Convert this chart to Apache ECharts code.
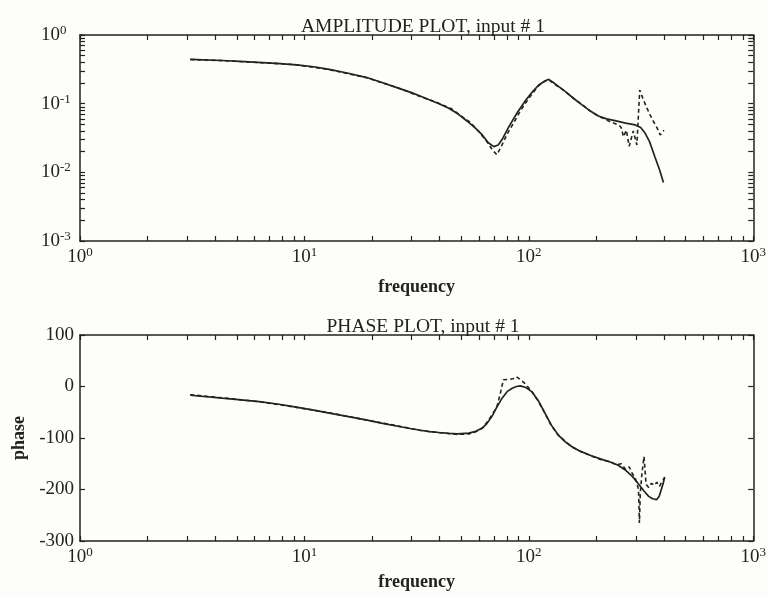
<!DOCTYPE html>
<html><head><meta charset="utf-8">
<script src="https://cdn.jsdelivr.net/npm/echarts@6/dist/echarts.min.js"></script>
<style>html,body{margin:0;padding:0;background:#fdfdf9}#c{width:769px;height:598px}</style>
</head><body><div id="c"></div><script>
const titles = ['AMPLITUDE PLOT, input # 1', 'PHASE PLOT, input # 1'];
const xName = 'frequency';
const phaseName = 'phase';

const ampFreqModel = [3.1, 4.3, 5.4, 6.5, 7.8, 9.2, 11, 12.9, 15.5, 18.8, 22, 26.4, 30, 33, 36, 39.8, 44, 48.6, 53, 57.8, 62, 66, 69.8, 73, 76, 81.4, 89, 97, 104, 110.7, 117, 122.6, 128, 135, 145.6, 158, 172.5, 188, 204, 222, 242, 270, 298, 315, 330, 345, 364, 382, 398];
const ampModel = [0.443, 0.425, 0.41, 0.397, 0.384, 0.368, 0.345, 0.315, 0.28, 0.242, 0.205, 0.167, 0.145, 0.128, 0.114, 0.10, 0.086, 0.07, 0.056, 0.044, 0.035, 0.027, 0.0237, 0.025, 0.03, 0.046, 0.075, 0.113, 0.15, 0.187, 0.21, 0.226, 0.205, 0.18, 0.15, 0.12, 0.096, 0.078, 0.066, 0.06, 0.0565, 0.052, 0.049, 0.045, 0.037, 0.028, 0.017, 0.011, 0.0071];

const ampFreqMeas = [3.1, 4.3, 6.5, 9.2, 12.9, 18.8, 26.4, 33, 39.8, 45, 50, 55, 60, 65, 69, 72, 75, 80, 86, 92, 100, 110, 117, 122, 128, 135, 145, 158, 172, 188, 204, 218, 229, 240, 251, 258, 264, 272, 280, 292, 303, 312, 322, 334, 346, 359, 372, 385, 400];
const ampMeas = [0.44, 0.424, 0.395, 0.369, 0.313, 0.24, 0.168, 0.126, 0.101, 0.085, 0.066, 0.053, 0.039, 0.028, 0.021, 0.018, 0.023, 0.036, 0.054, 0.08, 0.12, 0.18, 0.21, 0.225, 0.2, 0.178, 0.152, 0.12, 0.098, 0.078, 0.066, 0.06, 0.055, 0.052, 0.049, 0.045, 0.033, 0.041, 0.024, 0.04, 0.025, 0.158, 0.12, 0.09, 0.07, 0.055, 0.045, 0.035, 0.041];

const phaseFreqModel = [3.1, 4.3, 6.3, 7.7, 9.2, 11, 12.9, 15.5, 18.8, 22, 26.4, 30, 33, 36, 39.8, 44, 48, 54, 58, 62, 65, 68.5, 72, 76, 80, 84.3, 88, 91.7, 97, 103, 110, 118, 126, 135, 145, 155, 170, 190, 210, 234, 250, 268, 290, 310, 326, 342, 356, 371, 381, 389, 397, 403];
const phaseModel = [-17, -22.7, -29.2, -34.5, -40, -46, -51.8, -58, -64.7, -71, -77.7, -82, -85, -87.5, -89.3, -91, -92, -90.6, -87, -80.8, -72, -58, -40, -22.7, -10, -3.3, 0, 1.2, -2, -9.9, -27, -51.8, -75, -93.8, -107, -116.4, -126, -134.5, -141, -147.5, -153, -161.6, -175, -190.7, -203, -213.3, -218, -219.8, -213, -200.4, -188, -175.8];

const phaseFreqMeas = [3.1, 4.3, 6.3, 9.2, 12.9, 18.8, 26.4, 33, 39.8, 48, 54, 58, 62, 65, 68.5, 72, 74.5, 77, 82, 85, 88, 92, 96, 100, 104, 110, 118, 126, 135, 145, 155, 170, 190, 210, 230, 245, 258, 270, 280, 290, 298, 303, 308, 311, 314, 319, 326, 333, 342, 352, 362, 372, 382, 392, 403];
const phaseMeas = [-16, -22, -29.5, -40.5, -51, -65, -77, -85.5, -89.5, -93, -92, -88, -81, -70, -55, -40, -15, 13, 14, 15, 19, 13, 6, -3, -12, -28, -52, -76, -94, -106, -117, -126, -135, -142, -146, -152, -150, -161, -156, -170, -178, -188, -200, -265, -205, -170, -136, -190, -196, -188, -192, -186, -194, -185, -177];

const freqTicks = [1, 2, 3, 4, 5, 6, 7, 8, 9, 10, 20, 30, 40, 50, 60, 70, 80, 90, 100, 200, 300, 400, 500, 600, 700, 800, 900, 1000];
const freqLabels = [1, 10, 100, 1000];
const ampTicks = [0.001, 0.002, 0.003, 0.004, 0.005, 0.006, 0.007, 0.008, 0.009, 0.01, 0.02, 0.03, 0.04, 0.05, 0.06, 0.07, 0.08, 0.09, 0.1, 0.2, 0.3, 0.4, 0.5, 0.6, 0.7, 0.8, 0.9, 1];
const ampLabels = [0.001, 0.01, 0.1, 1];
const phaseTicks = [-300, -200, -100, 0, 100];

const FONT = '"Liberation Serif", "DejaVu Serif", serif';
const INK = '#222';
const zip = (a, b) => a.map((v, i) => [v, b[i]]);
const powRich = {
  b: { fontFamily: FONT, fontSize: 19, color: INK, lineHeight: 22 },
  s: { fontFamily: FONT, fontSize: 13, color: INK, lineHeight: 13, verticalAlign: 'top' }
};
const powFmt = v => '{b|10}{s|' + Math.round(Math.log10(v)) + '}';
const axisLine = { show: true, onZero: false, lineStyle: { color: INK, width: 1.5 } };
const tick = vals => ({ show: true, inside: true, length: 5, customValues: vals, lineStyle: { color: INK, width: 1.2 } });

const grids = [
  { left: 80, right: 12, top: 35, height: 206 },
  { left: 80, right: 12, top: 335, height: 206 }
];

const xAxes = [];
[0, 1].forEach(g => {
  xAxes.push({
    type: 'log', logBase: 10, min: 1, max: 1000, gridIndex: g, position: 'bottom',
    axisLine, axisTick: tick(freqTicks), splitLine: { show: false },
    axisLabel: { customValues: freqLabels, formatter: powFmt, rich: powRich, margin: 5 },
    name: xName, nameLocation: 'middle', nameGap: g === 0 ? 37 : 32,
    nameTextStyle: { fontFamily: FONT, fontSize: 18, fontWeight: 'bold', color: INK }
  });
  xAxes.push({
    type: 'log', logBase: 10, min: 1, max: 1000, gridIndex: g, position: 'top',
    axisLine, axisTick: tick(freqTicks), axisLabel: { show: false }, splitLine: { show: false }
  });
});

const yAxes = [
  { type: 'log', logBase: 10, min: 0.001, max: 1, gridIndex: 0, position: 'left',
    axisLine, axisTick: tick(ampTicks), splitLine: { show: false },
    axisLabel: { customValues: ampLabels, formatter: powFmt, rich: powRich, align: 'left', margin: 39 } },
  { type: 'log', logBase: 10, min: 0.001, max: 1, gridIndex: 0, position: 'right',
    axisLine, axisTick: tick(ampTicks), axisLabel: { show: false }, splitLine: { show: false } },
  { type: 'value', min: -300, max: 100, interval: 100, gridIndex: 1, position: 'left',
    axisLine, axisTick: tick(phaseTicks), splitLine: { show: false },
    axisLabel: { customValues: phaseTicks, fontFamily: FONT, fontSize: 19, color: INK, margin: 6 },
    name: phaseName, nameLocation: 'middle', nameRotate: 90, nameGap: 52,
    nameTextStyle: { fontFamily: FONT, fontSize: 18, fontWeight: 'bold', color: INK } },
  { type: 'value', min: -300, max: 100, interval: 100, gridIndex: 1, position: 'right',
    axisLine, axisTick: tick(phaseTicks), axisLabel: { show: false }, splitLine: { show: false } }
];

const solid = { color: INK, width: 1.7, type: 'solid' };
const dashed = { color: INK, width: 1.6, type: [4, 3] };
const mk = (x, y, data, ls) => ({ type: 'line', xAxisIndex: x, yAxisIndex: y, data, showSymbol: false, symbol: 'none', lineStyle: ls, itemStyle: { color: INK }, silent: true });

const chart = echarts.init(document.getElementById('c'), null, { renderer: 'canvas' });
chart.setOption({
  animation: false,
  backgroundColor: '#fdfdf9',
  title: [
    { text: titles[0], left: 418, top: 12, textAlign: 'center', textStyle: { fontFamily: FONT, fontSize: 19.5, fontWeight: 'normal', color: INK } },
    { text: titles[1], left: 418, top: 312, textAlign: 'center', textStyle: { fontFamily: FONT, fontSize: 19.5, fontWeight: 'normal', color: INK } }
  ],
  grid: grids,
  xAxis: xAxes,
  yAxis: yAxes,
  series: [
    mk(0, 0, zip(ampFreqMeas, ampMeas), dashed),
    mk(0, 0, zip(ampFreqModel, ampModel), solid),
    mk(2, 2, zip(phaseFreqMeas, phaseMeas), dashed),
    mk(2, 2, zip(phaseFreqModel, phaseModel), solid)
  ]
});
</script></body></html>
